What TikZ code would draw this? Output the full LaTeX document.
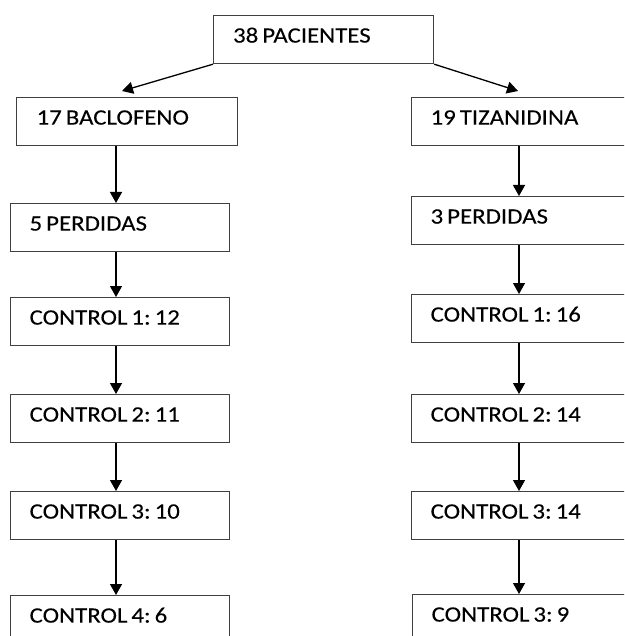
\documentclass[tikz,border=0pt]{standalone}
\usepackage{fontspec}
\setmainfont{Carlito}[FakeStretch=1.13,FakeBold=0.1]
\usetikzlibrary{arrows.meta}

\tikzset{box/.style={draw=black!75,line width=1.2pt,anchor=north west,minimum width=219pt,minimum height=48pt,
  text width=181pt,align=left,inner xsep=19pt,inner ysep=0pt,text height=16pt,text depth=10pt,
  font=\fontsize{22}{26}\selectfont,execute at begin node={\spaceskip=4pt\relax\xspaceskip=4pt\relax}},
link/.style={line width=1.3pt,-{Triangle[length=11pt,width=12pt]}}}

\begin{document}
\begin{tikzpicture}[x=1pt,y=-1pt]
\useasboundingbox (0,0) rectangle (624,636);
\clip (0,0) rectangle (624,636);

%% Columns and arrow tips
\coordinate (lcol) at (116,0);
\coordinate (rcol) at (519,0);
\coordinate (ltip) at (122,91);
\coordinate (rtip) at (518,91);

%% Boxes
\node [box,minimum width=220pt] (pac) at (213,15) {38 PACIENTES};
\node [box,minimum width=221pt] (bac) at (16,97) {17 BACLOFENO};
\node [box] (tiz) at (411,97) {19 TIZANIDINA};
\node [box] (lper) at (10,203) {5 PERDIDAS};
\node [box] (rper) at (411,196) {3 PERDIDAS};
\node [box] (lc1) at (10,297) {CONTROL 1: 12};
\node [box] (rc1) at (411,294) {CONTROL 1: 16};
\node [box] (lc2) at (10,394) {CONTROL 2: 11};
\node [box] (rc2) at (411,394) {CONTROL 2: 14};
\node [box] (lc3) at (10,491) {CONTROL 3: 10};
\node [box] (rc3) at (411,491) {CONTROL 3: 14};
\node [box] (lc4) at (10,595) {CONTROL 4: 6};
\node [box] (rc4) at (412,594) {CONTROL 3: 9};

%% Branches
\draw [link] (pac.south west) -- (ltip);
\draw [link] (pac.south east) -- (rtip);

%% Left column
\draw [link] (bac.south -| lcol) -- (lper.north -| lcol);
\draw [link] (lper.south -| lcol) -- (lc1.north -| lcol);
\draw [link] (lc1.south -| lcol) -- (lc2.north -| lcol);
\draw [link] (lc2.south -| lcol) -- (lc3.north -| lcol);
\draw [link] (lc3.south -| lcol) -- (lc4.north -| lcol);

%% Right column
\draw [link] (tiz.south -| rcol) -- (rper.north -| rcol);
\draw [link] (rper.south -| rcol) -- (rc1.north -| rcol);
\draw [link] (rc1.south -| rcol) -- (rc2.north -| rcol);
\draw [link] (rc2.south -| rcol) -- (rc3.north -| rcol);
\draw [link] (rc3.south -| rcol) -- (rc4.north -| rcol);

\end{tikzpicture}
\end{document}
